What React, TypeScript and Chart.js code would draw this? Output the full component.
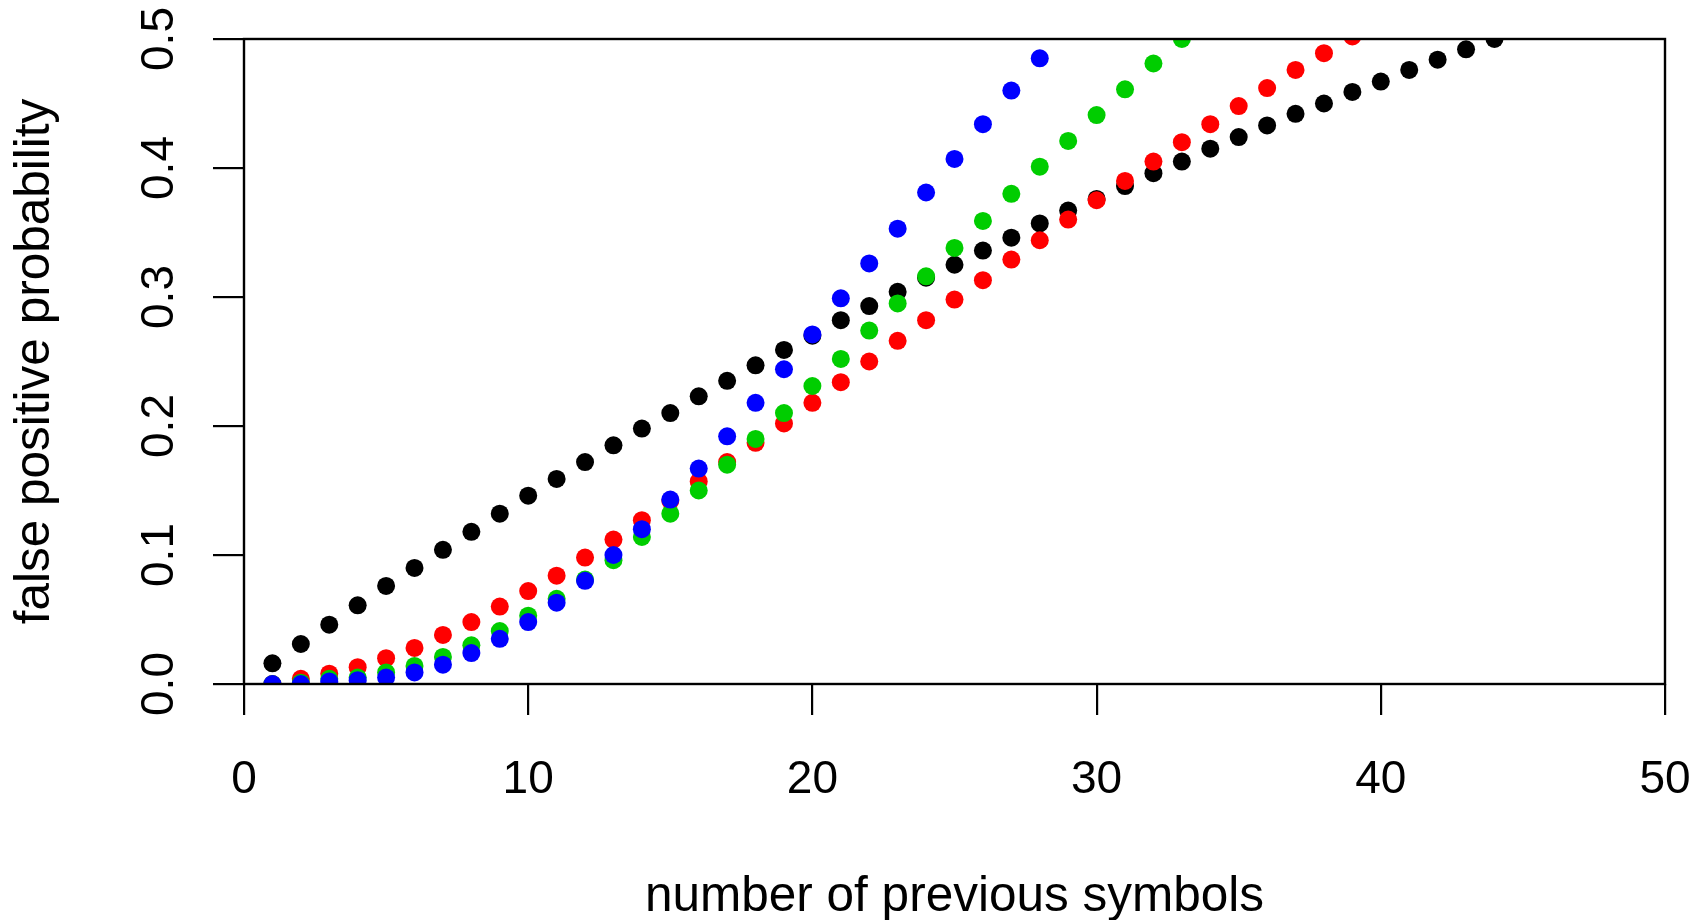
import React, { useEffect, useRef } from "react";
import { Chart, registerables } from "chart.js";

Chart.register(...registerables);

const previousSymbols = [
  1, 2, 3, 4, 5, 6, 7, 8, 9, 10, 11, 12, 13, 14, 15, 16, 17, 18, 19, 20, 21, 22,
  23, 24, 25, 26, 27, 28, 29, 30, 31, 32, 33, 34, 35, 36, 37, 38, 39, 40, 41, 42,
  43, 44,
];

const blackValues = [
  0.016, 0.031, 0.046, 0.061, 0.076, 0.09, 0.104, 0.118, 0.132, 0.146, 0.159,
  0.172, 0.185, 0.198, 0.21, 0.223, 0.235, 0.247, 0.259, 0.27, 0.282, 0.293,
  0.304, 0.315, 0.325, 0.336, 0.346, 0.357, 0.367, 0.376, 0.386, 0.396, 0.405,
  0.415, 0.424, 0.433, 0.442, 0.45, 0.459, 0.467, 0.476, 0.484, 0.492, 0.5,
];

const redValues = [
  0.0, 0.004, 0.008, 0.013, 0.02, 0.028, 0.038, 0.048, 0.06, 0.072, 0.084,
  0.098, 0.112, 0.127, 0.142, 0.157, 0.172, 0.187, 0.202, 0.218, 0.234, 0.25,
  0.266, 0.282, 0.298, 0.313, 0.329, 0.344, 0.36, 0.375, 0.39, 0.405, 0.42,
  0.434, 0.448, 0.462, 0.476, 0.489, 0.502,
];

const greenValues = [
  0.0, 0.001, 0.004, 0.005, 0.009, 0.014, 0.021, 0.03, 0.041, 0.053, 0.066,
  0.081, 0.096, 0.114, 0.132, 0.15, 0.17, 0.19, 0.21, 0.231, 0.252, 0.274,
  0.295, 0.316, 0.338, 0.359, 0.38, 0.401, 0.421, 0.441, 0.461, 0.481, 0.5,
];

const blueValues = [
  0.0, 0.0, 0.002, 0.003, 0.005, 0.009, 0.015, 0.024, 0.035, 0.048, 0.063,
  0.08, 0.1, 0.12, 0.143, 0.167, 0.192, 0.218, 0.244, 0.271, 0.299, 0.326,
  0.353, 0.381, 0.407, 0.434, 0.46, 0.485,
];

const xTicks = [0, 10, 20, 30, 40, 50];
const yTicks = [0, 0.1, 0.2, 0.3, 0.4, 0.5];

const xTitle = "number of previous symbols";
const yTitle = "false positive probability";

const FONT = "'Liberation Sans', Arial, Helvetica, sans-serif";

function toPoints(values: number[]) {
  return values.map((v, i) => ({ x: previousSymbols[i], y: v }));
}

const boxPlugin = {
  id: "boxPlugin",
  afterDraw(chart: any) {
    const { ctx, chartArea } = chart;
    ctx.save();
    ctx.strokeStyle = "#000";
    ctx.lineWidth = 2.4;
    ctx.strokeRect(
      chartArea.left,
      chartArea.top,
      chartArea.right - chartArea.left,
      chartArea.bottom - chartArea.top
    );
    ctx.restore();
  },
};

export default function App() {
  const ref = useRef<HTMLCanvasElement | null>(null);

  useEffect(() => {
    if (!ref.current) return;
    const mk = (values: number[], color: string) => ({
      data: toPoints(values),
      backgroundColor: color,
      borderColor: color,
      pointRadius: 9,
      pointHoverRadius: 9,
      pointBorderWidth: 0,
      showLine: false,
      clip: 0,
    });
    const chart = new Chart(ref.current, {
      type: "scatter",
      data: {
        datasets: [
          mk(blueValues, "#0000FF"),
          mk(greenValues, "#00CD00"),
          mk(redValues, "#FF0000"),
          mk(blackValues, "#000000"),
        ],
      },
      options: {
        responsive: false,
        animation: false,
        devicePixelRatio: 1,
        layout: { padding: { left: 0, top: 39, right: 39, bottom: 0 } },
        plugins: {
          legend: { display: false },
          tooltip: { enabled: false },
        },
        scales: {
          x: {
            type: "linear",
            min: 0,
            max: 50,
            afterBuildTicks: (scale: any) => {
              scale.ticks = xTicks.map((v) => ({ value: v }));
            },
            afterFit: (scale: any) => {
              scale.height = 236;
              scale.paddingLeft = 0;
              scale.paddingRight = 0;
            },
            grid: {
              display: true,
              drawOnChartArea: false,
              drawTicks: true,
              tickLength: 31,
              color: "#000",
              lineWidth: 2.2,
            },
            border: { display: false },
            ticks: {
              color: "#000",
              padding: 38,
              maxRotation: 0,
              font: { family: FONT, size: 46 },
              callback: (v: any) => String(v),
            },
            title: {
              display: true,
              text: xTitle,
              color: "#000",
              font: { family: FONT, size: 49.5, lineHeight: 1 },
              padding: { top: 0, bottom: -2 },
            },
          },
          y: {
            type: "linear",
            min: 0,
            max: 0.5,
            afterBuildTicks: (scale: any) => {
              scale.ticks = yTicks.map((v) => ({ value: v }));
            },
            afterFit: (scale: any) => {
              scale.width = 244;
              scale.paddingTop = 0;
              scale.paddingBottom = 0;
            },
            grid: {
              display: true,
              drawOnChartArea: false,
              drawTicks: true,
              tickLength: 31,
              color: "#000",
              lineWidth: 2.2,
            },
            border: { display: false },
            ticks: {
              color: "#000",
              padding: 21,
              minRotation: 90,
              maxRotation: 90,
              crossAlign: "center",
              font: { family: FONT, size: 46 },
              callback: (v: any) => Number(v).toFixed(1),
            },
            title: {
              display: true,
              text: yTitle,
              color: "#000",
              font: { family: FONT, size: 49.5, lineHeight: 1 },
              padding: { top: 11, bottom: 0 },
            },
          },
        },
      },
      plugins: [boxPlugin],
    });
    return () => chart.destroy();
  }, []);

  return (
    <div style={{ position: "absolute", left: 0, top: 0, width: 1704, height: 920, background: "#fff" }}>
      <canvas ref={ref} width={1704} height={920} style={{ display: "block" }} />
    </div>
  );
}
